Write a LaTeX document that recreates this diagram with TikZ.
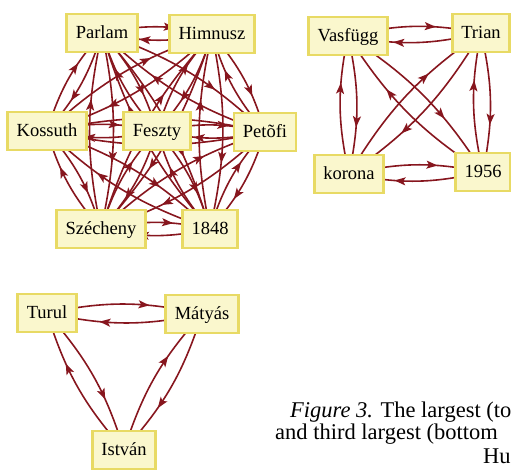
\documentclass[tikz,border=0pt]{standalone}
\usepackage{fontspec}
\setmainfont{Liberation Serif}
\usetikzlibrary{arrows.meta,decorations.markings,backgrounds}
\definecolor{arcred}{RGB}{135,22,30}
\definecolor{boxfill}{RGB}{250,247,205}
\definecolor{boxline}{RGB}{232,218,100}
\begin{document}
\begin{tikzpicture}[x=1pt,y=1pt,
  vbox/.style={draw=boxline, fill=boxfill, line width=2.8pt, minimum height=38pt,
    inner xsep=9pt, text height=12pt, text depth=1pt, font=\fontsize{18.5}{20}\selectfont},
  arc/.style={draw=arcred, line width=1.6pt, postaction={decorate},
    decoration={markings, mark=at position 0.66 with {\arrow[arcred]{Stealth[length=11pt,width=8pt,inset=2.5pt]}}}},
  captext/.style={anchor=base west, inner sep=0pt, font=\fontsize{22.5}{25}\selectfont}]
\useasboundingbox (0,0) rectangle (511,469);
\clip (0,0) rectangle (511,469);
% graph 1
\node[vbox] (pa) at (102,436) {Parlam};
\node[vbox] (hi) at (212,435) {Himnusz};
\node[vbox] (ko) at (47,338) {Kossuth};
\node[vbox] (fe) at (157,338) {Feszty};
\node[vbox] (pe) at (265,337) {Petõfi};
\node[vbox] (sz) at (101,240) {Szécheny};
\node[vbox] (ei) at (210,240) {1848};
% graph 2
\node[vbox] (va) at (348,433) {Vasfügg};
\node[vbox] (tr) at (481,436) {Trian};
\node[vbox] (kr) at (349,295) {korona};
\node[vbox] (ns) at (483,297) {1956};
% graph 3
\node[vbox] (tu) at (47,156) {Turul};
\node[vbox] (ma) at (202,155) {Mátyás};
\node[vbox] (is) at (124,19) {István};
\begin{scope}[on background layer]
\foreach \a/\b in {pa/hi, pa/ko, pa/fe, pa/pe, pa/sz, pa/ei, hi/ko, hi/fe, hi/pe, hi/sz, hi/ei,
  ko/fe, ko/pe, ko/sz, ko/ei, fe/pe, fe/sz, fe/ei, pe/sz, pe/ei, sz/ei,
  va/tr, va/kr, va/ns, tr/kr, tr/ns, kr/ns, tu/ma, tu/is, ma/is}
{\draw[arc] (\a.center) to[bend left=12] (\b.center);
 \draw[arc] (\b.center) to[bend left=12] (\a.center);}
\end{scope}
% caption
\node[captext] (c1) at (290,52) {\textit{Figure 3.} The largest (to};
\node[captext] (c2) at (275,30) {and third largest (bottom};
\node[captext] (c3) at (483,6) {Hu};
\end{tikzpicture}
\end{document}
